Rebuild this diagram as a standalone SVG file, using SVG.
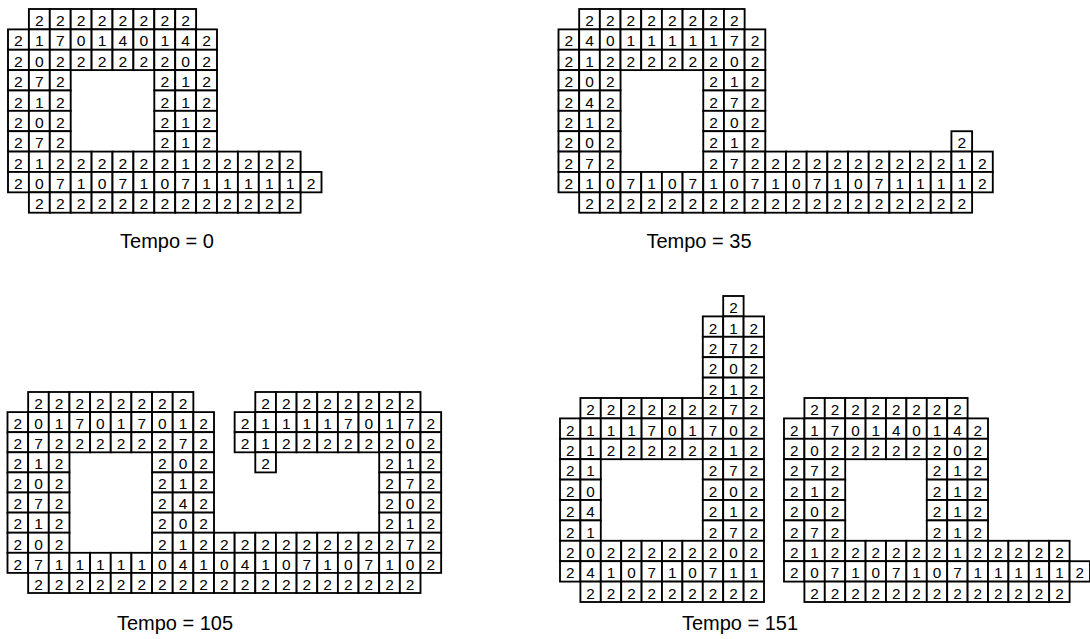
<svg xmlns="http://www.w3.org/2000/svg" xmlns:xlink="http://www.w3.org/1999/xlink" width="1090" height="639" viewBox="0 0 1090 639">
<style>
.cell{fill:#fff;stroke:#000;stroke-width:1.8}
.d{font-family:"Liberation Sans",Arial,sans-serif;font-size:15px;text-anchor:middle;fill:#000}
.lbl{font-family:"Liberation Sans",Arial,sans-serif;font-size:20px;text-anchor:middle;fill:#000}
</style>
<defs>
<rect id="c" class="cell" width="20" height="20"/>
<g id="gridA">
<g transform="translate(0,0)"><use href="#c" x="20"/><use href="#c" x="40"/><use href="#c" x="60"/><use href="#c" x="80"/><use href="#c" x="100"/><use href="#c" x="120"/><use href="#c" x="140"/><use href="#c" x="160"/><text class="d" x="30 50 70 90 110 130 150 170" y="16.8">22222222</text></g>
<g transform="translate(0,20)"><use href="#c" x="0"/><use href="#c" x="20"/><use href="#c" x="40"/><use href="#c" x="60"/><use href="#c" x="80"/><use href="#c" x="100"/><use href="#c" x="120"/><use href="#c" x="140"/><use href="#c" x="160"/><use href="#c" x="180"/><text class="d" x="10 30 50 70 90 110 130 150 170 190" y="16.8">2170140142</text></g>
<g transform="translate(0,40)"><use href="#c" x="0"/><use href="#c" x="20"/><use href="#c" x="40"/><use href="#c" x="60"/><use href="#c" x="80"/><use href="#c" x="100"/><use href="#c" x="120"/><use href="#c" x="140"/><use href="#c" x="160"/><use href="#c" x="180"/><text class="d" x="10 30 50 70 90 110 130 150 170 190" y="16.8">2022222202</text></g>
<g transform="translate(0,60)"><use href="#c" x="0"/><use href="#c" x="20"/><use href="#c" x="40"/><use href="#c" x="140"/><use href="#c" x="160"/><use href="#c" x="180"/><text class="d" x="10 30 50 150 170 190" y="16.8">272212</text></g>
<g transform="translate(0,80)"><use href="#c" x="0"/><use href="#c" x="20"/><use href="#c" x="40"/><use href="#c" x="140"/><use href="#c" x="160"/><use href="#c" x="180"/><text class="d" x="10 30 50 150 170 190" y="16.8">212212</text></g>
<g transform="translate(0,100)"><use href="#c" x="0"/><use href="#c" x="20"/><use href="#c" x="40"/><use href="#c" x="140"/><use href="#c" x="160"/><use href="#c" x="180"/><text class="d" x="10 30 50 150 170 190" y="16.8">202212</text></g>
<g transform="translate(0,120)"><use href="#c" x="0"/><use href="#c" x="20"/><use href="#c" x="40"/><use href="#c" x="140"/><use href="#c" x="160"/><use href="#c" x="180"/><text class="d" x="10 30 50 150 170 190" y="16.8">272212</text></g>
<g transform="translate(0,140)"><use href="#c" x="0"/><use href="#c" x="20"/><use href="#c" x="40"/><use href="#c" x="60"/><use href="#c" x="80"/><use href="#c" x="100"/><use href="#c" x="120"/><use href="#c" x="140"/><use href="#c" x="160"/><use href="#c" x="180"/><use href="#c" x="200"/><use href="#c" x="220"/><use href="#c" x="240"/><use href="#c" x="260"/><text class="d" x="10 30 50 70 90 110 130 150 170 190 210 230 250 270" y="16.8">21222222122222</text></g>
<g transform="translate(0,160)"><use href="#c" x="0"/><use href="#c" x="20"/><use href="#c" x="40"/><use href="#c" x="60"/><use href="#c" x="80"/><use href="#c" x="100"/><use href="#c" x="120"/><use href="#c" x="140"/><use href="#c" x="160"/><use href="#c" x="180"/><use href="#c" x="200"/><use href="#c" x="220"/><use href="#c" x="240"/><use href="#c" x="260"/><use href="#c" x="280"/><text class="d" x="10 30 50 70 90 110 130 150 170 190 210 230 250 270 290" y="16.8">207107107111112</text></g>
<g transform="translate(0,180)"><use href="#c" x="20"/><use href="#c" x="40"/><use href="#c" x="60"/><use href="#c" x="80"/><use href="#c" x="100"/><use href="#c" x="120"/><use href="#c" x="140"/><use href="#c" x="160"/><use href="#c" x="180"/><use href="#c" x="200"/><use href="#c" x="220"/><use href="#c" x="240"/><use href="#c" x="260"/><text class="d" x="30 50 70 90 110 130 150 170 190 210 230 250 270" y="16.8">2222222222222</text></g>
</g>
</defs>

<g id="panel-t0">
<use href="#gridA" transform="translate(8,9) scale(1.045,1.0185)"/>
<text class="lbl" x="167" y="248">Tempo = 0</text>
</g>

<g id="panel-t35">
<g transform="translate(558.5,9) scale(1.034,1.0185)">
<g transform="translate(0,0)"><use href="#c" x="20"/><use href="#c" x="40"/><use href="#c" x="60"/><use href="#c" x="80"/><use href="#c" x="100"/><use href="#c" x="120"/><use href="#c" x="140"/><use href="#c" x="160"/><text class="d" x="30 50 70 90 110 130 150 170" y="16.8">22222222</text></g>
<g transform="translate(0,20)"><use href="#c" x="0"/><use href="#c" x="20"/><use href="#c" x="40"/><use href="#c" x="60"/><use href="#c" x="80"/><use href="#c" x="100"/><use href="#c" x="120"/><use href="#c" x="140"/><use href="#c" x="160"/><use href="#c" x="180"/><text class="d" x="10 30 50 70 90 110 130 150 170 190" y="16.8">2401111172</text></g>
<g transform="translate(0,40)"><use href="#c" x="0"/><use href="#c" x="20"/><use href="#c" x="40"/><use href="#c" x="60"/><use href="#c" x="80"/><use href="#c" x="100"/><use href="#c" x="120"/><use href="#c" x="140"/><use href="#c" x="160"/><use href="#c" x="180"/><text class="d" x="10 30 50 70 90 110 130 150 170 190" y="16.8">2122222202</text></g>
<g transform="translate(0,60)"><use href="#c" x="0"/><use href="#c" x="20"/><use href="#c" x="40"/><use href="#c" x="140"/><use href="#c" x="160"/><use href="#c" x="180"/><text class="d" x="10 30 50 150 170 190" y="16.8">202212</text></g>
<g transform="translate(0,80)"><use href="#c" x="0"/><use href="#c" x="20"/><use href="#c" x="40"/><use href="#c" x="140"/><use href="#c" x="160"/><use href="#c" x="180"/><text class="d" x="10 30 50 150 170 190" y="16.8">242272</text></g>
<g transform="translate(0,100)"><use href="#c" x="0"/><use href="#c" x="20"/><use href="#c" x="40"/><use href="#c" x="140"/><use href="#c" x="160"/><use href="#c" x="180"/><text class="d" x="10 30 50 150 170 190" y="16.8">212202</text></g>
<g transform="translate(0,120)"><use href="#c" x="0"/><use href="#c" x="20"/><use href="#c" x="40"/><use href="#c" x="140"/><use href="#c" x="160"/><use href="#c" x="180"/><use href="#c" x="380"/><text class="d" x="10 30 50 150 170 190 390" y="16.8">2022122</text></g>
<g transform="translate(0,140)"><use href="#c" x="0"/><use href="#c" x="20"/><use href="#c" x="40"/><use href="#c" x="140"/><use href="#c" x="160"/><use href="#c" x="180"/><use href="#c" x="200"/><use href="#c" x="220"/><use href="#c" x="240"/><use href="#c" x="260"/><use href="#c" x="280"/><use href="#c" x="300"/><use href="#c" x="320"/><use href="#c" x="340"/><use href="#c" x="360"/><use href="#c" x="380"/><use href="#c" x="400"/><text class="d" x="10 30 50 150 170 190 210 230 250 270 290 310 330 350 370 390 410" y="16.8">27227222222222212</text></g>
<g transform="translate(0,160)"><use href="#c" x="0"/><use href="#c" x="20"/><use href="#c" x="40"/><use href="#c" x="60"/><use href="#c" x="80"/><use href="#c" x="100"/><use href="#c" x="120"/><use href="#c" x="140"/><use href="#c" x="160"/><use href="#c" x="180"/><use href="#c" x="200"/><use href="#c" x="220"/><use href="#c" x="240"/><use href="#c" x="260"/><use href="#c" x="280"/><use href="#c" x="300"/><use href="#c" x="320"/><use href="#c" x="340"/><use href="#c" x="360"/><use href="#c" x="380"/><use href="#c" x="400"/><text class="d" x="10 30 50 70 90 110 130 150 170 190 210 230 250 270 290 310 330 350 370 390 410" y="16.8">210710710710710711112</text></g>
<g transform="translate(0,180)"><use href="#c" x="20"/><use href="#c" x="40"/><use href="#c" x="60"/><use href="#c" x="80"/><use href="#c" x="100"/><use href="#c" x="120"/><use href="#c" x="140"/><use href="#c" x="160"/><use href="#c" x="180"/><use href="#c" x="200"/><use href="#c" x="220"/><use href="#c" x="240"/><use href="#c" x="260"/><use href="#c" x="280"/><use href="#c" x="300"/><use href="#c" x="320"/><use href="#c" x="340"/><use href="#c" x="360"/><use href="#c" x="380"/><text class="d" x="30 50 70 90 110 130 150 170 190 210 230 250 270 290 310 330 350 370 390" y="16.8">2222222222222222222</text></g>
</g>
<text class="lbl" x="699" y="248">Tempo = 35</text>
</g>

<g id="panel-t105">
<g transform="translate(7.5,392) scale(1.0325,1.005)">
<g transform="translate(0,0)"><use href="#c" x="20"/><use href="#c" x="40"/><use href="#c" x="60"/><use href="#c" x="80"/><use href="#c" x="100"/><use href="#c" x="120"/><use href="#c" x="140"/><use href="#c" x="160"/><use href="#c" x="240"/><use href="#c" x="260"/><use href="#c" x="280"/><use href="#c" x="300"/><use href="#c" x="320"/><use href="#c" x="340"/><use href="#c" x="360"/><use href="#c" x="380"/><text class="d" x="30 50 70 90 110 130 150 170 250 270 290 310 330 350 370 390" y="16.8">2222222222222222</text></g>
<g transform="translate(0,20)"><use href="#c" x="0"/><use href="#c" x="20"/><use href="#c" x="40"/><use href="#c" x="60"/><use href="#c" x="80"/><use href="#c" x="100"/><use href="#c" x="120"/><use href="#c" x="140"/><use href="#c" x="160"/><use href="#c" x="180"/><use href="#c" x="220"/><use href="#c" x="240"/><use href="#c" x="260"/><use href="#c" x="280"/><use href="#c" x="300"/><use href="#c" x="320"/><use href="#c" x="340"/><use href="#c" x="360"/><use href="#c" x="380"/><use href="#c" x="400"/><text class="d" x="10 30 50 70 90 110 130 150 170 190 230 250 270 290 310 330 350 370 390 410" y="16.8">20170170122111170172</text></g>
<g transform="translate(0,40)"><use href="#c" x="0"/><use href="#c" x="20"/><use href="#c" x="40"/><use href="#c" x="60"/><use href="#c" x="80"/><use href="#c" x="100"/><use href="#c" x="120"/><use href="#c" x="140"/><use href="#c" x="160"/><use href="#c" x="180"/><use href="#c" x="220"/><use href="#c" x="240"/><use href="#c" x="260"/><use href="#c" x="280"/><use href="#c" x="300"/><use href="#c" x="320"/><use href="#c" x="340"/><use href="#c" x="360"/><use href="#c" x="380"/><use href="#c" x="400"/><text class="d" x="10 30 50 70 90 110 130 150 170 190 230 250 270 290 310 330 350 370 390 410" y="16.8">27222222722122222202</text></g>
<g transform="translate(0,60)"><use href="#c" x="0"/><use href="#c" x="20"/><use href="#c" x="40"/><use href="#c" x="140"/><use href="#c" x="160"/><use href="#c" x="180"/><use href="#c" x="240"/><use href="#c" x="360"/><use href="#c" x="380"/><use href="#c" x="400"/><text class="d" x="10 30 50 150 170 190 250 370 390 410" y="16.8">2122022212</text></g>
<g transform="translate(0,80)"><use href="#c" x="0"/><use href="#c" x="20"/><use href="#c" x="40"/><use href="#c" x="140"/><use href="#c" x="160"/><use href="#c" x="180"/><use href="#c" x="360"/><use href="#c" x="380"/><use href="#c" x="400"/><text class="d" x="10 30 50 150 170 190 370 390 410" y="16.8">202212272</text></g>
<g transform="translate(0,100)"><use href="#c" x="0"/><use href="#c" x="20"/><use href="#c" x="40"/><use href="#c" x="140"/><use href="#c" x="160"/><use href="#c" x="180"/><use href="#c" x="360"/><use href="#c" x="380"/><use href="#c" x="400"/><text class="d" x="10 30 50 150 170 190 370 390 410" y="16.8">272242202</text></g>
<g transform="translate(0,120)"><use href="#c" x="0"/><use href="#c" x="20"/><use href="#c" x="40"/><use href="#c" x="140"/><use href="#c" x="160"/><use href="#c" x="180"/><use href="#c" x="360"/><use href="#c" x="380"/><use href="#c" x="400"/><text class="d" x="10 30 50 150 170 190 370 390 410" y="16.8">212202212</text></g>
<g transform="translate(0,140)"><use href="#c" x="0"/><use href="#c" x="20"/><use href="#c" x="40"/><use href="#c" x="140"/><use href="#c" x="160"/><use href="#c" x="180"/><use href="#c" x="200"/><use href="#c" x="220"/><use href="#c" x="240"/><use href="#c" x="260"/><use href="#c" x="280"/><use href="#c" x="300"/><use href="#c" x="320"/><use href="#c" x="340"/><use href="#c" x="360"/><use href="#c" x="380"/><use href="#c" x="400"/><text class="d" x="10 30 50 150 170 190 210 230 250 270 290 310 330 350 370 390 410" y="16.8">20221222222222272</text></g>
<g transform="translate(0,160)"><use href="#c" x="0"/><use href="#c" x="20"/><use href="#c" x="40"/><use href="#c" x="60"/><use href="#c" x="80"/><use href="#c" x="100"/><use href="#c" x="120"/><use href="#c" x="140"/><use href="#c" x="160"/><use href="#c" x="180"/><use href="#c" x="200"/><use href="#c" x="220"/><use href="#c" x="240"/><use href="#c" x="260"/><use href="#c" x="280"/><use href="#c" x="300"/><use href="#c" x="320"/><use href="#c" x="340"/><use href="#c" x="360"/><use href="#c" x="380"/><use href="#c" x="400"/><text class="d" x="10 30 50 70 90 110 130 150 170 190 210 230 250 270 290 310 330 350 370 390 410" y="16.8">271111104104107107102</text></g>
<g transform="translate(0,180)"><use href="#c" x="20"/><use href="#c" x="40"/><use href="#c" x="60"/><use href="#c" x="80"/><use href="#c" x="100"/><use href="#c" x="120"/><use href="#c" x="140"/><use href="#c" x="160"/><use href="#c" x="180"/><use href="#c" x="200"/><use href="#c" x="220"/><use href="#c" x="240"/><use href="#c" x="260"/><use href="#c" x="280"/><use href="#c" x="300"/><use href="#c" x="320"/><use href="#c" x="340"/><use href="#c" x="360"/><use href="#c" x="380"/><text class="d" x="30 50 70 90 110 130 150 170 190 210 230 250 270 290 310 330 350 370 390" y="16.8">2222222222222222222</text></g>
</g>
<text class="lbl" x="175" y="630">Tempo = 105</text>
</g>

<g id="panel-t151">
<g transform="translate(560,296) scale(1.02,1.02)">
<g transform="translate(0,0)"><use href="#c" x="160"/><text class="d" x="170" y="16.8">2</text></g>
<g transform="translate(0,20)"><use href="#c" x="140"/><use href="#c" x="160"/><use href="#c" x="180"/><text class="d" x="150 170 190" y="16.8">212</text></g>
<g transform="translate(0,40)"><use href="#c" x="140"/><use href="#c" x="160"/><use href="#c" x="180"/><text class="d" x="150 170 190" y="16.8">272</text></g>
<g transform="translate(0,60)"><use href="#c" x="140"/><use href="#c" x="160"/><use href="#c" x="180"/><text class="d" x="150 170 190" y="16.8">202</text></g>
<g transform="translate(0,80)"><use href="#c" x="140"/><use href="#c" x="160"/><use href="#c" x="180"/><text class="d" x="150 170 190" y="16.8">212</text></g>
<g transform="translate(0,100)"><use href="#c" x="20"/><use href="#c" x="40"/><use href="#c" x="60"/><use href="#c" x="80"/><use href="#c" x="100"/><use href="#c" x="120"/><use href="#c" x="140"/><use href="#c" x="160"/><use href="#c" x="180"/><text class="d" x="30 50 70 90 110 130 150 170 190" y="16.8">222222272</text></g>
<g transform="translate(0,120)"><use href="#c" x="0"/><use href="#c" x="20"/><use href="#c" x="40"/><use href="#c" x="60"/><use href="#c" x="80"/><use href="#c" x="100"/><use href="#c" x="120"/><use href="#c" x="140"/><use href="#c" x="160"/><use href="#c" x="180"/><text class="d" x="10 30 50 70 90 110 130 150 170 190" y="16.8">2111701702</text></g>
<g transform="translate(0,140)"><use href="#c" x="0"/><use href="#c" x="20"/><use href="#c" x="40"/><use href="#c" x="60"/><use href="#c" x="80"/><use href="#c" x="100"/><use href="#c" x="120"/><use href="#c" x="140"/><use href="#c" x="160"/><use href="#c" x="180"/><text class="d" x="10 30 50 70 90 110 130 150 170 190" y="16.8">2122222212</text></g>
<g transform="translate(0,160)"><use href="#c" x="0"/><use href="#c" x="20"/><use href="#c" x="140"/><use href="#c" x="160"/><use href="#c" x="180"/><text class="d" x="10 30 150 170 190" y="16.8">21272</text></g>
<g transform="translate(0,180)"><use href="#c" x="0"/><use href="#c" x="20"/><use href="#c" x="140"/><use href="#c" x="160"/><use href="#c" x="180"/><text class="d" x="10 30 150 170 190" y="16.8">20202</text></g>
<g transform="translate(0,200)"><use href="#c" x="0"/><use href="#c" x="20"/><use href="#c" x="140"/><use href="#c" x="160"/><use href="#c" x="180"/><text class="d" x="10 30 150 170 190" y="16.8">24212</text></g>
<g transform="translate(0,220)"><use href="#c" x="0"/><use href="#c" x="20"/><use href="#c" x="140"/><use href="#c" x="160"/><use href="#c" x="180"/><text class="d" x="10 30 150 170 190" y="16.8">21272</text></g>
<g transform="translate(0,240)"><use href="#c" x="0"/><use href="#c" x="20"/><use href="#c" x="40"/><use href="#c" x="60"/><use href="#c" x="80"/><use href="#c" x="100"/><use href="#c" x="120"/><use href="#c" x="140"/><use href="#c" x="160"/><use href="#c" x="180"/><text class="d" x="10 30 50 70 90 110 130 150 170 190" y="16.8">2022222202</text></g>
<g transform="translate(0,260)"><use href="#c" x="0"/><use href="#c" x="20"/><use href="#c" x="40"/><use href="#c" x="60"/><use href="#c" x="80"/><use href="#c" x="100"/><use href="#c" x="120"/><use href="#c" x="140"/><use href="#c" x="160"/><use href="#c" x="180"/><text class="d" x="10 30 50 70 90 110 130 150 170 190" y="16.8">2410710711</text></g>
<g transform="translate(0,280)"><use href="#c" x="20"/><use href="#c" x="40"/><use href="#c" x="60"/><use href="#c" x="80"/><use href="#c" x="100"/><use href="#c" x="120"/><use href="#c" x="140"/><use href="#c" x="160"/><use href="#c" x="180"/><text class="d" x="30 50 70 90 110 130 150 170 190" y="16.8">222222222</text></g>
</g>
<use href="#gridA" transform="translate(784,398) scale(1.02,1.02)"/>
<text class="lbl" x="740" y="630">Tempo = 151</text>
</g>
</svg>
